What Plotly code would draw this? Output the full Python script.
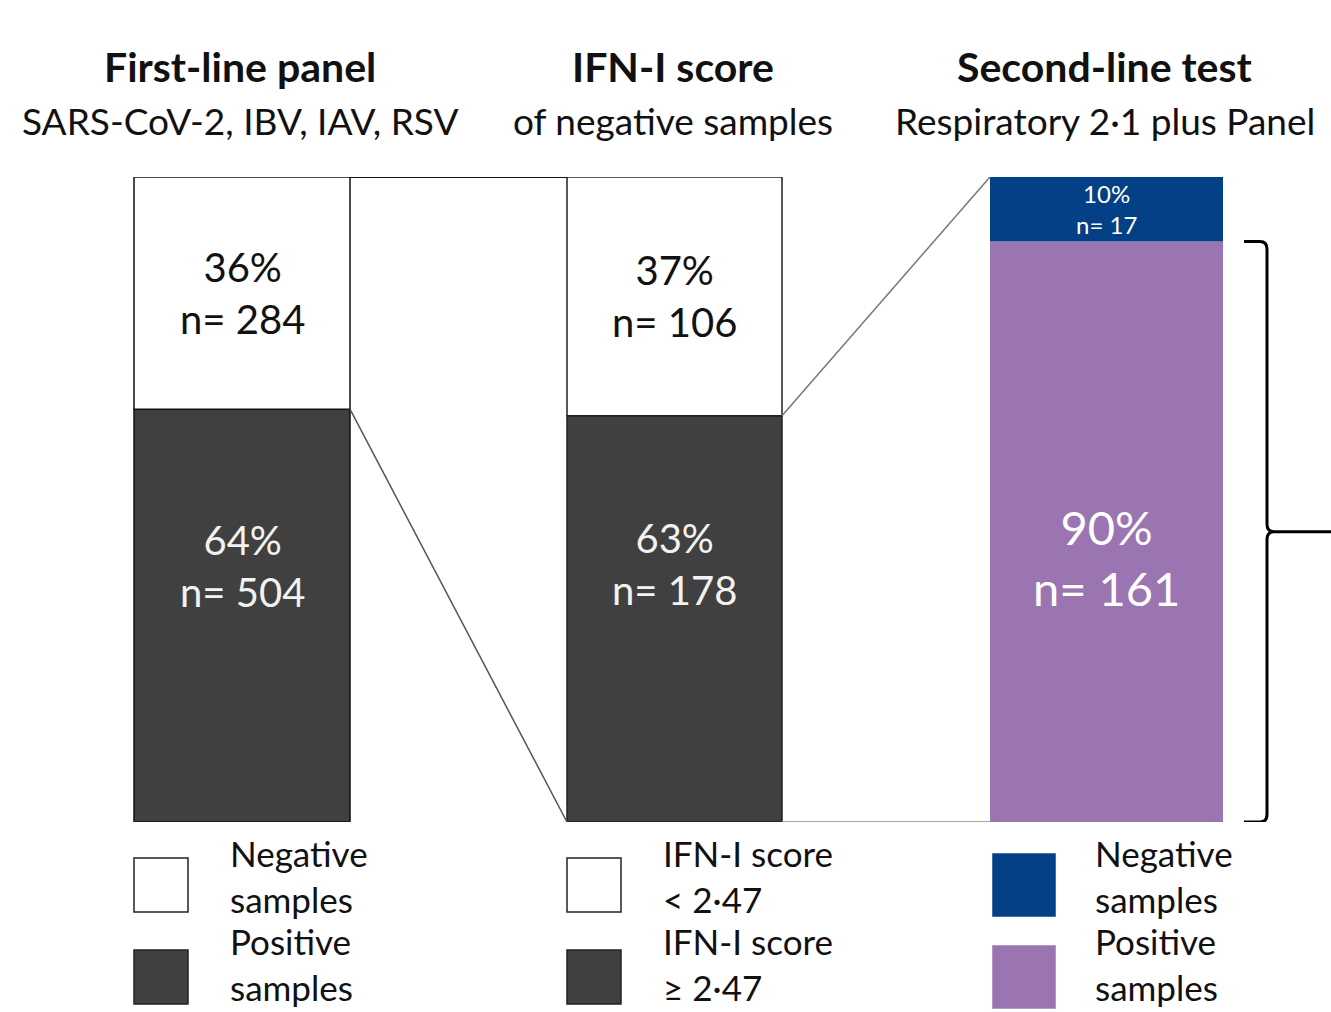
import plotly.graph_objects as go

# ---- data ---------------------------------------------------------------
panel_titles = ["First-line panel", "IFN-I score", "Second-line test"]
panel_subtitles = ["SARS-CoV-2, IBV, IAV, RSV", "of negative samples",
                   "Respiratory 2·1 plus Panel"]
upper_pct = [36, 37, 10]
upper_n = [284, 106, 17]
lower_pct = [64, 63, 90]
lower_n = [504, 178, 161]
upper_legend = ["Negative<br>samples", "IFN-I score<br>&lt; 2·47", "Negative<br>samples"]
lower_legend = ["Positive<br>samples", "IFN-I score<br>≥ 2·47", "Positive<br>samples"]

# ---- layout / style -----------------------------------------------------
W, H = 1331, 1012
FONT = "Lato"
x_centers = [242, 674.5, 1106.5]
bar_widths = [216, 215, 233]
upper_colors = ["#FFFFFF", "#FFFFFF", "#044085"]
lower_colors = ["#404040", "#404040", "#9B75B1"]
edge_colors = ["#111111", "#222222", "rgba(0,0,0,0)"]
upper_text_colors = ["#111111", "#111111", "#FFFFFF"]
lower_text_colors = ["#F2F2F2", "#F2F2F2", "#FFFFFF"]
label_sizes = [40, 40, 47]
upper_label_sizes = [40, 40, 24]
lower_label_shift = [50, 55, -26]
legend_x = [134, 567, 993]
legend_text_x = [228, 661, 1093]


def py(pixel_y):
    """Convert a pixel row to paper coordinates."""
    return 1 - pixel_y / H


y_bottom, y_top = 822, 177
fig = go.Figure()

fig.add_trace(go.Bar(
    x=x_centers, y=lower_pct, base=[0, 0, 0], width=bar_widths,
    marker=dict(color=lower_colors, line=dict(color=edge_colors, width=1.5)),
    hoverinfo="skip", showlegend=False,
))
fig.add_trace(go.Bar(
    x=x_centers, y=upper_pct, base=lower_pct, width=bar_widths,
    marker=dict(color=upper_colors, line=dict(color=edge_colors, width=1.5)),
    hoverinfo="skip", showlegend=False,
))

left = [c - w / 2 for c, w in zip(x_centers, bar_widths)]
right = [c + w / 2 for c, w in zip(x_centers, bar_widths)]

# connectors between the panels
connectors = [
    ((right[0], 100), (left[1], 100), "#111111", 2),
    ((right[0], lower_pct[0]), (left[1], 0), "#555555", 1.5),
    ((right[1], lower_pct[1]), (left[2], 100), "#777777", 1.5),
    ((right[1], 0), (left[2], 0), "#888888", 1.5),
]
for (x0, y0), (x1, y1), col, lw in connectors:
    fig.add_trace(go.Scatter(
        x=[x0, x1], y=[y0, y1], mode="lines",
        line=dict(color=col, width=lw), hoverinfo="skip", showlegend=False,
    ))

annotations = []

# panel headings
for i in range(3):
    annotations.append(dict(
        x=x_centers[i] - 2, y=py(67), xref="x", yref="paper", text=f"<b>{panel_titles[i]}</b>",
        showarrow=False, font=dict(family=FONT, size=41, color="#111111"),
        xanchor="center", yanchor="middle"))
    annotations.append(dict(
        x=x_centers[i] - 2, y=py(121), xref="x", yref="paper", text=panel_subtitles[i],
        showarrow=False, font=dict(family=FONT, size=37, color="#111111"),
        xanchor="center", yanchor="middle"))

# segment labels
for i in range(3):
    umid = lower_pct[i] + upper_pct[i] / 2
    annotations.append(dict(
        x=x_centers[i], y=umid, xref="x", yref="y",
        text=f"{upper_pct[i]}%<br>n= {upper_n[i]}", showarrow=False,
        font=dict(family=FONT, size=upper_label_sizes[i], color=upper_text_colors[i])))
    lmid = lower_pct[i] / 2
    annotations.append(dict(
        x=x_centers[i], y=lmid, xref="x", yref="y",
        text=f"{lower_pct[i]}%<br>n= {lower_n[i]}", showarrow=False,
        yshift=lower_label_shift[i],
        font=dict(family=FONT, size=label_sizes[i], color=lower_text_colors[i])))

# legends
shapes = []
for i in range(3):
    big = i == 2
    sq = 62 if big else 54
    for row, (top_px, colr, txt) in enumerate([
        (858 if not big else 854, upper_colors[i], upper_legend[i]),
        (950 if not big else 946, lower_colors[i], lower_legend[i]),
    ]):
        shapes.append(dict(
            type="rect", xref="x", yref="paper",
            x0=legend_x[i], x1=legend_x[i] + sq, y0=py(top_px), y1=py(top_px + sq),
            fillcolor=colr, line=dict(color="#222222" if not big else colr, width=1.5),
            layer="above"))
        center_px = 876 if row == 0 else 964
        annotations.append(dict(
            x=legend_text_x[i], y=py(center_px), xref="x", yref="paper",
            text=txt, showarrow=False, xanchor="left", yanchor="middle", align="left",
            font=dict(family=FONT, size=35, color="#111111")))

# brace spanning the positive segment of the second-line test
top, bot = lower_pct[2], 0
mid = (top + bot) / 2
r = 1.2
brace = (f"M 1244,{top} L 1260,{top} Q 1267,{top} 1267,{top - r} "
         f"L 1267,{mid + r} Q 1267,{mid} 1274,{mid} L 1331,{mid} "
         f"M 1274,{mid} Q 1267,{mid} 1267,{mid - r} "
         f"L 1267,{bot + r} Q 1267,{bot} 1260,{bot} L 1244,{bot}")
shapes.append(dict(type="path", xref="x", yref="y", path=brace,
                   line=dict(color="#000000", width=3)))

fig.update_layout(
    width=W, height=H, margin=dict(l=0, r=0, t=0, b=0),
    paper_bgcolor="white", plot_bgcolor="white", barmode="overlay",
    xaxis=dict(range=[0, W], domain=[0, 1], visible=False, fixedrange=True),
    yaxis=dict(range=[0, 100], domain=[py(y_bottom), py(y_top)], visible=False, fixedrange=True),
    annotations=annotations, shapes=shapes, showlegend=False,
)

fig.write_html("out.html", config={"displayModeBar": False})
